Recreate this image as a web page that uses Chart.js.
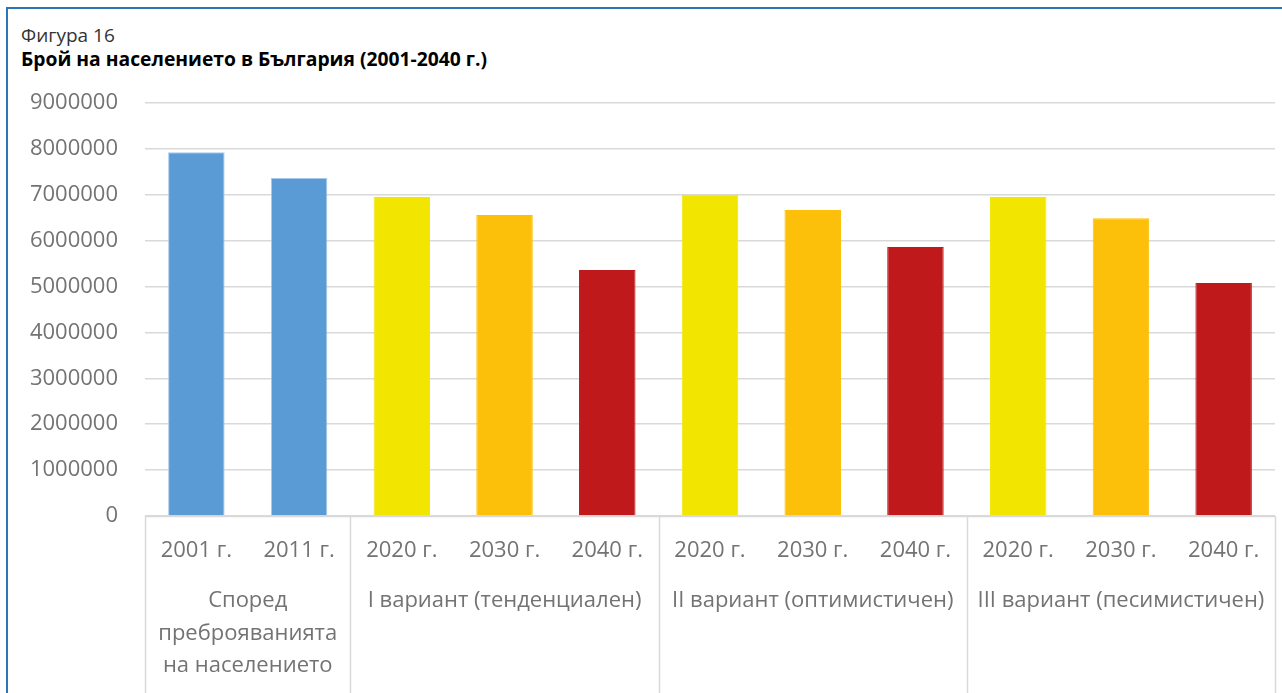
<!DOCTYPE html>
<html>
<head>
<meta charset="utf-8">
<script src="https://cdn.jsdelivr.net/npm/chart.js@4.4.1/dist/chart.umd.min.js"></script>
<style>
  html, body { margin: 0; padding: 0; background: #fff; }
  #wrap { position: relative; width: 1282px; height: 693px; overflow: hidden; }
  #frame { position: absolute; left: 6px; top: 7px; width: 1300px; height: 700px; border: 2px solid #2E75B6; box-sizing: border-box; }
  #fig { position: absolute; left: 21px; top: 22px; font: 19px "Open Sans", sans-serif; color: #333; line-height: 26px; }
  #title { position: absolute; left: 21px; top: 46px; font: bold 19.3px "Open Sans", sans-serif; color: #000; line-height: 26px; }
  canvas { position: absolute; left: 0; top: 0; }
</style>
</head>
<body>
<div id="wrap">
  <div id="frame"></div>
  <div id="fig">Фигура 16</div>
  <div id="title">Брой на населението в България (2001-2040 г.)</div>
  <canvas id="c" width="1282" height="693"></canvas>
</div>
<script>
const categories = ["2001 г.", "2011 г.", "2020 г.", "2030 г.", "2040 г.", "2020 г.", "2030 г.", "2040 г.", "2020 г.", "2030 г.", "2040 г."];
const groupLabels = [["Според", "преброяванията", "на населението"], ["I вариант (тенденциален)"], ["II вариант (оптимистичен)"], ["III вариант (песимистичен)"]];
const groupSizes = [2, 3, 3, 3];
const population = [7928901, 7364570, 6950000, 6560000, 5360000, 7000000, 6670000, 5860000, 6950000, 6490000, 5080000];
const barColors = ["#5B9BD5", "#5B9BD5", "#F2E600", "#FCBF0A", "#C0191B", "#F2E600", "#FCBF0A", "#C0191B", "#F2E600", "#FCBF0A", "#C0191B"];
const borderColors = ["#A9C9EB", "#A9C9EB", "#F2E600", "#FCBF0A", "#C0191B", "#F2E600", "#FCBF0A", "#C0191B", "#F2E600", "#FCBF0A", "#C0191B"];
const yTicks = [0, 1000000, 2000000, 3000000, 4000000, 5000000, 6000000, 7000000, 8000000, 9000000];

const AXIS_FONT = { family: "'Open Sans', sans-serif", size: 22 };
const TEXT_COLOR = "#737373";

const groupPlugin = {
  id: "groups",
  afterDraw(chart) {
    const ctx = chart.ctx;
    const x = chart.scales.x;
    const area = chart.chartArea;
    const bottom = chart.height;
    ctx.save();
    ctx.strokeStyle = "#D9D9D9";
    ctx.lineWidth = 1.5;
    let idx = 0;
    const bounds = [area.left];
    const centers = [];
    groupSizes.forEach((n) => {
      const first = x.getPixelForValue(idx);
      const last = x.getPixelForValue(idx + n - 1);
      centers.push((first + last) / 2);
      idx += n;
      if (idx < categories.length) {
        bounds.push((x.getPixelForValue(idx - 1) + x.getPixelForValue(idx)) / 2);
      }
    });
    bounds.push(area.right);
    bounds.forEach(bx => {
      ctx.beginPath();
      ctx.moveTo(Math.round(bx) + 0.5, area.bottom);
      ctx.lineTo(Math.round(bx) + 0.5, bottom);
      ctx.stroke();
    });
    ctx.beginPath();
    ctx.moveTo(area.left, area.bottom + 0.5);
    ctx.lineTo(area.right, area.bottom + 0.5);
    ctx.stroke();
    ctx.fillStyle = TEXT_COLOR;
    ctx.font = AXIS_FONT.size + "px " + AXIS_FONT.family;
    ctx.textAlign = "center";
    ctx.textBaseline = "middle";
    groupLabels.forEach((lines, g) => {
      lines.forEach((t, i) => {
        ctx.fillText(t, centers[g], area.bottom + 85 + i * 32.5);
      });
    });
    ctx.restore();
  }
};

new Chart(document.getElementById("c"), {
  type: "bar",
  data: {
    labels: categories,
    datasets: [{
      data: population,
      backgroundColor: barColors,
      borderColor: borderColors,
      borderWidth: 1,
      categoryPercentage: 1,
      barPercentage: 0.55
    }]
  },
  options: {
    responsive: false,
    animation: false,
    devicePixelRatio: 1,
    layout: { padding: { top: 103, right: 7, left: 0, bottom: 0 } },
    plugins: { legend: { display: false }, tooltip: { enabled: false }, title: { display: false } },
    scales: {
      x: {
        grid: { display: false, drawTicks: false },
        border: { display: false },
        ticks: { font: AXIS_FONT, color: TEXT_COLOR, padding: 22, maxRotation: 0, autoSkip: false },
        afterFit(s) { s.height = 177; }
      },
      y: {
        min: 0, max: 9000000,
        afterBuildTicks(s) { s.ticks = yTicks.map(v => ({ value: v })); },
        grid: { color: "#D9D9D9", lineWidth: 1.5, drawTicks: false },
        border: { display: false },
        ticks: { font: AXIS_FONT, color: TEXT_COLOR, padding: 27, callback: v => String(v) },
        afterFit(s) { s.width = 145; }
      }
    }
  },
  plugins: [groupPlugin]
});
</script>
</body>
</html>
